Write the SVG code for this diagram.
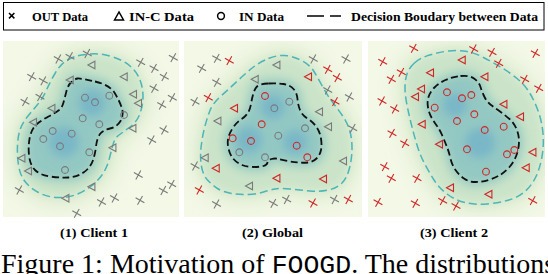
<svg xmlns="http://www.w3.org/2000/svg" width="548" height="274" viewBox="0 0 548 274">
<style>
.bg{fill:#f3f8e7}
.ib{fill:none;stroke:#111;stroke-width:1.8;stroke-dasharray:7 3.5}
.ob{fill:none;stroke:#4bb5b8;stroke-width:1.5;stroke-dasharray:8 4}
.g{stroke:#7a7a7a;fill:none;stroke-width:1.1}
.r{stroke:#d02626;fill:none;stroke-width:1.1}
.lk{stroke:#000;fill:none;stroke-width:1.5}
.lg{font-family:"Liberation Serif","Times New Roman",serif;font-weight:bold;font-size:12.5px;fill:#000}
.cap{font-family:"Liberation Serif","Times New Roman",serif;font-weight:bold;font-size:12px;fill:#000;text-anchor:middle}
.fig{font-family:"Liberation Serif","Times New Roman",serif;font-size:28px;fill:#000}
.mono{font-family:"Liberation Mono","Courier New",monospace;font-size:26.5px}
</style>
<defs>
<filter id="b10" x="-50%" y="-50%" width="200%" height="200%"><feGaussianBlur stdDeviation="9"/></filter>
<filter id="b6" x="-50%" y="-50%" width="200%" height="200%"><feGaussianBlur stdDeviation="5"/></filter>
<filter id="b4" x="-50%" y="-50%" width="200%" height="200%"><feGaussianBlur stdDeviation="4"/></filter>
<path id="i1" d="M95,81.5 Q110,85 115,93.5 Q120,102 122,108.5 Q124,115 120.5,121 Q117,127 110,128.5 Q103,130 100,134 Q97,138 96,146.5 Q95,155 92.5,161.5 Q90,168 83.5,172.5 Q77,177 68.5,177.5 Q60,178 50,176.5 Q40,175 35,170 Q30,165 29,155 Q28,145 30,136.5 Q32,128 37,124 Q42,120 48.5,116.5 Q55,113 58.5,110.5 Q62,108 63.5,102.5 Q65,97 66.5,91 Q68,85 71.5,82 Q75,79 77.5,78.5 Q80,78 95,81.5 Z"/>
<path id="o1" d="M90,54 Q100,53 111.5,56.5 Q123,60 130,66 Q137,72 140,80 Q143,88 143,96.5 Q143,105 140,113.5 Q137,122 130,127 Q123,132 119,135 Q115,138 113.5,143 Q112,148 109.5,158 Q107,168 102,175 Q97,182 90,187 Q83,192 75,195 Q67,198 57,197.5 Q47,197 38.5,192.5 Q30,188 25,181.5 Q20,175 18.5,165 Q17,155 17.5,145 Q18,135 20.5,128.5 Q23,122 28,116 Q33,110 38,104 Q43,98 46.5,90 Q50,82 55,73.5 Q60,65 65,61.5 Q70,58 75,56.5 Q80,55 90,54 Z"/>
<path id="i2" d="M268.5,83.5 Q277,83 283.5,84 Q290,85 293.5,89 Q297,93 297.5,99 Q298,105 300,110 Q302,115 307.5,118.5 Q313,122 316.5,127 Q320,132 321,138.5 Q322,145 321,150 Q320,155 316.5,158.5 Q313,162 308,162.5 Q303,163 298,162.5 Q293,162 287.5,161 Q282,160 278.5,159 Q275,158 271.5,159 Q268,160 267.5,162.5 Q267,165 263.5,166 Q260,167 253.5,167 Q247,167 242,165 Q237,163 233.5,159 Q230,155 228.5,148.5 Q227,142 228.5,137 Q230,132 233.5,127 Q237,122 241,119.5 Q245,117 247.5,113.5 Q250,110 251,104 Q252,98 253.5,93 Q255,88 257.5,86 Q260,84 268.5,83.5 Z"/>
<path id="o2" d="M268.5,58.5 Q277,55 285,55.5 Q293,56 301.5,60.5 Q310,65 314,71.5 Q318,78 322.5,86.5 Q327,95 332,101.5 Q337,108 342,115 Q347,122 349.5,130 Q352,138 352,148 Q352,158 349.5,168 Q347,178 342,183 Q337,188 328.5,190 Q320,192 310,191 Q300,190 290,189 Q280,188 275,189 Q270,190 263.5,192 Q257,194 248.5,194.5 Q240,195 231.5,193.5 Q223,192 217.5,188.5 Q212,185 207.5,180 Q203,175 201.5,166.5 Q200,158 201,148 Q202,138 204.5,128 Q207,118 210,110.5 Q213,103 221.5,95.5 Q230,88 238.5,80 Q247,72 253.5,67 Q260,62 268.5,58.5 Z"/>
<path id="i3" d="M460.5,76 Q469,75 474,78.5 Q479,82 480.5,87 Q482,92 484.5,97 Q487,102 491,105 Q495,108 500,111.5 Q505,115 509.5,119 Q514,123 516.5,129 Q519,135 519,141.5 Q519,148 516.5,155 Q514,162 509.5,167 Q505,172 500,175 Q495,178 488.5,180 Q482,182 475.5,182 Q469,182 464,178.5 Q459,175 455.5,170 Q452,165 450.5,158.5 Q449,152 447,147 Q445,142 442.5,136 Q440,130 437,126 Q434,122 431.5,117.5 Q429,113 428,107.5 Q427,102 428.5,97 Q430,92 434.5,87.5 Q439,83 445.5,80 Q452,77 460.5,76 Z"/>
<path id="o3" d="M414.5,63 Q420,58 429.5,55 Q439,52 449,51 Q459,50 467,51.5 Q475,53 483.5,57.5 Q492,62 500.5,67 Q509,72 517,78.5 Q525,85 530,93.5 Q535,102 538.5,112 Q542,122 543,133.5 Q544,145 542,156.5 Q540,168 536,176.5 Q532,185 525.5,191 Q519,197 509,200 Q499,203 487,204 Q475,205 465,202.5 Q455,200 447,194 Q439,188 434,180 Q429,172 424.5,163.5 Q420,155 417,145 Q414,135 411.5,125 Q409,115 407,105 Q405,95 405,87.5 Q405,80 407,74 Q409,68 414.5,63 Z"/>
<path id="mx" d="M-4.4,-2.5L4.4,2.5M-2.5,4.4L2.5,-4.4"/>
<path id="mt" d="M-3.8,0L3.2,-3.8L3.2,3.8Z"/>
<circle id="mc" r="3.4"/>
<clipPath id="c1"><rect x="3" y="41" width="176" height="176"/></clipPath>
<clipPath id="c2"><rect x="184" y="41" width="178" height="176"/></clipPath>
<clipPath id="c3"><rect x="368" y="41" width="177" height="176"/></clipPath>
</defs>

<g id="legend">
<rect x="3.5" y="2.5" width="540.5" height="27.5" fill="#fff" stroke="#000" stroke-width="1"/>
<path class="lk" d="M9,13L14.4,18.4M9,18.4L14.4,13" stroke-width="1.8"/>
<text class="lg" x="32" y="21" textLength="56" lengthAdjust="spacingAndGlyphs">OUT Data</text>
<path class="lk" d="M114.5,20L119,12L123.5,20Z"/>
<text class="lg" x="129" y="21" textLength="65" lengthAdjust="spacingAndGlyphs">IN-C Data</text>
<circle class="lk" cx="221" cy="16" r="3.4"/>
<text class="lg" x="239" y="21" textLength="45" lengthAdjust="spacingAndGlyphs">IN Data</text>
<path class="lk" d="M307,16H324M330,16H341" stroke-width="1.7"/>
<text class="lg" x="351" y="21" textLength="187" lengthAdjust="spacingAndGlyphs">Decision Boudary between Data</text>
</g>

<g id="panel-client1">
<g clip-path="url(#c1)">
<rect class="bg" x="3" y="41" width="176" height="176"/>
<use href="#o1" fill="#e2eed4" stroke="#e2eed4" stroke-width="22" filter="url(#b10)"/>
<use href="#o1" fill="#cbe4c9" filter="url(#b6)"/>
<use href="#i1" fill="#acd5c3" stroke="#acd5c3" stroke-width="12" filter="url(#b6)"/>
<use href="#i1" fill="#93c8c3" filter="url(#b4)"/>
<circle cx="92" cy="103" r="13" fill="#79b7c7" filter="url(#b4)"/>
<circle cx="64" cy="142" r="15" fill="#79b7c7" filter="url(#b4)"/>
</g>
<use href="#o1" class="ob"/>
<use href="#i1" class="ib"/>
<g class="g">
<use href="#mx" x="58.3" y="59"/><use href="#mx" x="70" y="56.7"/><use href="#mx" x="87.3" y="53.5"/><use href="#mx" x="31.7" y="76.7"/><use href="#mx" x="43.3" y="80.8"/><use href="#mx" x="25" y="101.7"/><use href="#mx" x="40" y="96.7"/><use href="#mx" x="140.7" y="62.3"/><use href="#mx" x="154" y="68.3"/><use href="#mx" x="164.3" y="76.7"/><use href="#mx" x="173.3" y="57.7"/><use href="#mx" x="154" y="88.3"/><use href="#mx" x="172.3" y="97.7"/><use href="#mx" x="161.7" y="105"/><use href="#mx" x="164" y="130"/><use href="#mx" x="151.7" y="140"/><use href="#mx" x="138.3" y="175"/><use href="#mx" x="163.3" y="190.5"/><use href="#mx" x="171.7" y="184.3"/><use href="#mx" x="140" y="200.3"/><use href="#mx" x="114.5" y="198"/><use href="#mx" x="101.5" y="202"/><use href="#mx" x="76.7" y="213.3"/><use href="#mx" x="19.3" y="190"/>
<use href="#mt" x="91.7" y="65"/><use href="#mt" x="70" y="80"/><use href="#mt" x="124" y="76.7"/><use href="#mt" x="133.3" y="94.3"/><use href="#mt" x="138.3" y="103.3"/><use href="#mt" x="51.7" y="108.3"/><use href="#mt" x="33.3" y="122.3"/><use href="#mt" x="132.7" y="128.3"/><use href="#mt" x="112.7" y="147.7"/><use href="#mt" x="21.7" y="158.3"/><use href="#mt" x="28.3" y="171"/><use href="#mt" x="91.7" y="186.7"/><use href="#mt" x="65.7" y="198.3"/>
<use href="#mc" x="85" y="97.7"/><use href="#mc" x="95" y="102.3"/><use href="#mc" x="109.3" y="95.7"/><use href="#mc" x="82.7" y="118.3"/><use href="#mc" x="99.3" y="124.3"/><use href="#mc" x="124" y="115"/><use href="#mc" x="52.7" y="131"/><use href="#mc" x="71.7" y="133.7"/><use href="#mc" x="43.3" y="139"/><use href="#mc" x="60" y="146.3"/><use href="#mc" x="89.3" y="152.3"/><use href="#mc" x="65" y="170"/>
</g>
</g>

<g id="panel-global">
<g clip-path="url(#c2)">
<rect class="bg" x="184" y="41" width="178" height="176"/>
<use href="#o2" fill="#e2eed4" stroke="#e2eed4" stroke-width="22" filter="url(#b10)"/>
<use href="#o2" fill="#cbe4c9" filter="url(#b6)"/>
<use href="#i2" fill="#acd5c3" stroke="#acd5c3" stroke-width="12" filter="url(#b6)"/>
<use href="#i2" fill="#93c8c3" filter="url(#b4)"/>
<circle cx="273" cy="107" r="12" fill="#79b7c7" filter="url(#b4)"/>
<circle cx="249" cy="140" r="13" fill="#79b7c7" filter="url(#b4)"/>
<circle cx="295" cy="142" r="12" fill="#79b7c7" filter="url(#b4)"/>
</g>
<use href="#o2" class="ob"/>
<use href="#i2" class="ib"/>
<g class="g">
<use href="#mx" x="216.7" y="58.3"/><use href="#mx" x="201.7" y="68.3"/><use href="#mx" x="216.7" y="82.3"/><use href="#mx" x="195" y="101.7"/><use href="#mx" x="313.3" y="59"/><use href="#mx" x="346" y="59"/><use href="#mx" x="327.7" y="90"/><use href="#mx" x="349.3" y="97"/><use href="#mx" x="352.7" y="128.3"/><use href="#mx" x="195" y="166"/><use href="#mx" x="216.5" y="204"/><use href="#mx" x="273.3" y="203.3"/><use href="#mx" x="286.7" y="199.5"/><use href="#mx" x="334.5" y="199.5"/>
<use href="#mt" x="276.7" y="65"/><use href="#mt" x="255" y="79.3"/><use href="#mt" x="217.7" y="121"/><use href="#mt" x="319.3" y="111.7"/><use href="#mt" x="328.3" y="126.7"/><use href="#mt" x="205" y="157.7"/><use href="#mt" x="343.3" y="161"/><use href="#mt" x="249.3" y="186"/>
<use href="#mc" x="289.3" y="101.7"/><use href="#mc" x="274.3" y="108.3"/><use href="#mc" x="305" y="128.3"/><use href="#mc" x="278.3" y="135.7"/><use href="#mc" x="239.3" y="152.3"/><use href="#mc" x="265" y="157.3"/>
</g>
<g class="r">
<use href="#mx" x="229.3" y="60.7"/><use href="#mx" x="208.3" y="97.7"/><use href="#mx" x="327.7" y="69.3"/><use href="#mx" x="337.3" y="77.7"/><use href="#mx" x="335" y="101.7"/><use href="#mx" x="199.3" y="190"/><use href="#mx" x="313" y="203"/><use href="#mx" x="348.3" y="199.5"/>
<use href="#mt" x="308.3" y="76.7"/><use href="#mt" x="234.3" y="108.3"/><use href="#mt" x="216" y="168.3"/><use href="#mt" x="276.7" y="178.3"/><use href="#mt" x="323.3" y="179"/>
<use href="#mc" x="265" y="96"/><use href="#mc" x="261.7" y="124.3"/><use href="#mc" x="232.7" y="138.3"/><use href="#mc" x="251" y="141"/><use href="#mc" x="296.7" y="145.7"/><use href="#mc" x="307.3" y="157.3"/>
</g>
</g>

<g id="panel-client2">
<g clip-path="url(#c3)">
<rect class="bg" x="368" y="41" width="177" height="176"/>
<use href="#o3" fill="#e2eed4" stroke="#e2eed4" stroke-width="22" filter="url(#b10)"/>
<use href="#o3" fill="#cbe4c9" filter="url(#b6)"/>
<use href="#i3" fill="#acd5c3" stroke="#acd5c3" stroke-width="12" filter="url(#b6)"/>
<use href="#i3" fill="#93c8c3" filter="url(#b4)"/>
<circle cx="455" cy="105" r="12" fill="#79b7c7" filter="url(#b4)"/>
<circle cx="480" cy="143" r="15" fill="#79b7c7" filter="url(#b4)"/>
</g>
<use href="#o3" class="ob"/>
<use href="#i3" class="ib"/>
<g class="r">
<use href="#mx" x="413.7" y="48.3"/><use href="#mx" x="382.7" y="61.7"/><use href="#mx" x="401.3" y="72.3"/><use href="#mx" x="391.3" y="79.3"/><use href="#mx" x="382" y="101"/><use href="#mx" x="394.7" y="109"/><use href="#mx" x="392" y="133.3"/><use href="#mx" x="404.7" y="143.3"/><use href="#mx" x="384.7" y="166.7"/><use href="#mx" x="391.3" y="178.3"/><use href="#mx" x="417" y="178.3"/><use href="#mx" x="378" y="202.3"/><use href="#mx" x="415.3" y="203.3"/><use href="#mx" x="442.7" y="200.7"/><use href="#mx" x="456" y="206"/><use href="#mx" x="473.7" y="49"/><use href="#mx" x="492" y="52.3"/><use href="#mx" x="498.7" y="63.3"/><use href="#mx" x="535.3" y="53.3"/><use href="#mx" x="524.7" y="79.3"/><use href="#mx" x="538.7" y="88.3"/><use href="#mx" x="532.7" y="200.7"/>
<use href="#mt" x="462" y="60"/><use href="#mt" x="430.3" y="72.7"/><use href="#mt" x="484.7" y="76.7"/><use href="#mt" x="421.3" y="89"/><use href="#mt" x="415.3" y="96.7"/><use href="#mt" x="503.7" y="104.3"/><use href="#mt" x="422" y="124.3"/><use href="#mt" x="520.3" y="116.7"/><use href="#mt" x="439.3" y="144.3"/><use href="#mt" x="532.7" y="152.3"/><use href="#mt" x="526" y="167.7"/><use href="#mt" x="450.3" y="187.7"/><use href="#mt" x="488.7" y="194.3"/>
<use href="#mc" x="447" y="92.3"/><use href="#mc" x="462" y="98.3"/><use href="#mc" x="471.3" y="95"/><use href="#mc" x="434.7" y="107.7"/><use href="#mc" x="474.3" y="114.3"/><use href="#mc" x="457" y="121"/><use href="#mc" x="503.7" y="126.7"/><use href="#mc" x="484.7" y="130"/><use href="#mc" x="467" y="149.3"/><use href="#mc" x="507" y="154.3"/><use href="#mc" x="514.3" y="150"/><use href="#mc" x="486" y="171.7"/>
</g>
</g>

<g id="captions">
<text class="cap" x="94" y="237" textLength="68" lengthAdjust="spacingAndGlyphs">(1) Client 1</text>
<text class="cap" x="272.5" y="237" textLength="61" lengthAdjust="spacingAndGlyphs">(2) Global</text>
<text class="cap" x="454" y="237" textLength="68" lengthAdjust="spacingAndGlyphs">(3) Client 2</text>
</g>
<text class="fig" x="1" y="273">Figure 1: Motivation of <tspan class="mono">FOOGD</tspan>. The distributions</text>
</svg>
